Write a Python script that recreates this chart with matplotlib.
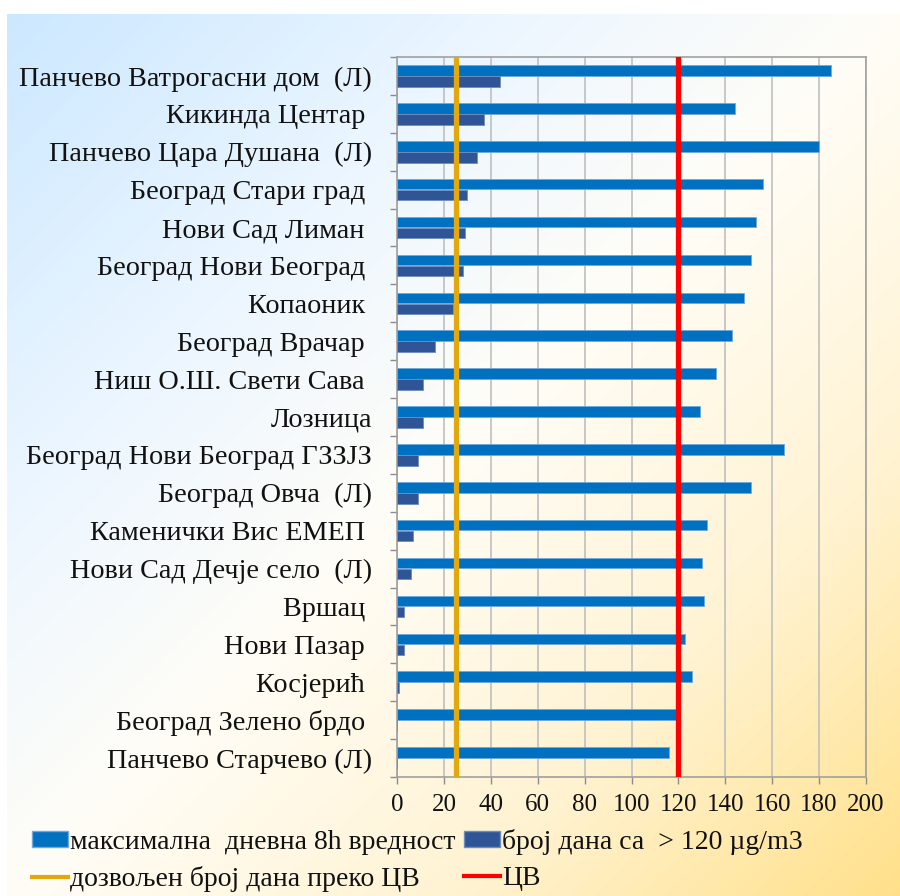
import numpy as np
import matplotlib
matplotlib.use("Agg")
import matplotlib.pyplot as plt
from matplotlib.patches import Patch
from matplotlib.lines import Line2D
from matplotlib.colors import LinearSegmentedColormap

plt.rcParams['font.family'] = ['Liberation Serif', 'DejaVu Serif']

stations = [
    "Панчево Ватрогасни дом  (Л)",
    "Кикинда Центар ",
    "Панчево Цара Душана  (Л)",
    "Београд Стари град ",
    "Нови Сад Лиман ",
    "Београд Нови Београд ",
    "Копаоник ",
    "Београд Врачар ",
    "Ниш О.Ш. Свети Сава ",
    "Лозница",
    "Београд Нови Београд ГЗЗЈЗ",
    "Београд Овча  (Л)",
    "Каменички Вис ЕМЕП ",
    "Нови Сад Дечје село  (Л)",
    "Вршац ",
    "Нови Пазар ",
    "Косјерић ",
    "Београд Зелено брдо ",
    "Панчево Старчево (Л)",
]
max_8h = [185, 144, 180, 156, 153, 151, 148, 143, 136, 129, 165, 151, 132, 130, 131, 123, 126, 119, 116]
days_over = [44, 37, 34, 30, 29, 28, 24, 16, 11, 11, 9, 9, 7, 6, 3, 3, 1, 0, 0]
allowed_days = 25
limit_value = 120
x_ticks = list(range(0, 201, 20))

legend_labels = ["максимална  дневна 8h вредност", "број дана са  > 120 µg/m3",
                 "дозвољен број дана преко ЦВ", "ЦВ"]

c_max = "#0070C0"
c_days = "#2F5597"
c_allowed = "#E2A80E"
c_limit = "#FF0000"

W, H = 900, 896
fig = plt.figure(figsize=(W / 100, H / 100), dpi=100)
fig.patch.set_facecolor("white")

# gradient background
bg = fig.add_axes([7 / W, 0, 1 - 7 / W, 1 - 14 / H], zorder=-10)
gx = np.linspace(0, 1, 400)
gy = np.linspace(0, 1, 400)
GX, GY = np.meshgrid(gx, gy)
T = (GX + GY) / 2
cmap = LinearSegmentedColormap.from_list(
    "bg", [(0, "#CCE8FF"), (0.3, "#EEF7FF"), (0.5, "#FFFDF7"), (0.75, "#FFF3D2"), (1, "#FFE08A")])
bg.imshow(T, cmap=cmap, aspect="auto", origin="upper", extent=[0, 1, 0, 1], vmin=0, vmax=1)
bg.axis("off")

ax = fig.add_axes([397 / W, 1 - 777 / H, (866 - 397) / W, (777 - 57) / H])
ax.set_facecolor("none")

n = len(stations)
y = np.arange(n)
h = 0.28
ax.barh(y - 0.145, max_8h, height=h, color=c_max, edgecolor="#6FA8DC", linewidth=0.6, zorder=3)
ax.barh(y + 0.145, days_over, height=h, color=c_days, edgecolor="#6E8CC0", linewidth=0.6, zorder=3)
ax.axvline(allowed_days, color=c_allowed, lw=3.8, zorder=4)
ax.axvline(limit_value, color=c_limit, lw=3.8, zorder=4)

ax.set_xlim(0, 200)
ax.set_ylim(n - 0.5, -0.5)
ax.set_xticks(x_ticks)
ax.set_xticklabels([str(v) for v in x_ticks])
ax.xaxis.grid(True, color="#BFBFBF", lw=1.2, zorder=0)
ax.set_axisbelow(True)

ax.set_yticks(np.arange(-0.5, n, 1.0))
ax.set_yticklabels([])
ax.set_yticks(y, minor=True)
ax.set_yticklabels(stations, minor=True)
ax.tick_params(axis="y", which="major", length=5, color="#8C8C8C", width=1)
ax.tick_params(axis="y", which="minor", length=0, pad=18, labelsize=20.3, labelcolor="#111111")
ax.tick_params(axis="x", length=5, color="#8C8C8C", width=1, pad=7, labelsize=18, labelcolor="#111111")

for s in ax.spines.values():
    s.set_color("#A0A0A0")
    s.set_linewidth(1.2)

h_max = Patch(facecolor=c_max, edgecolor="#6FA8DC")
h_days = Patch(facecolor=c_days, edgecolor="#6E8CC0")
h_allowed = Line2D([0], [0], color=c_allowed, lw=3)
h_limit = Line2D([0], [0], color=c_limit, lw=3)
# column-wise fill: col 1 = max, allowed ; col 2 = days, limit
fig.legend([h_max, h_allowed, h_days, h_limit],
           [legend_labels[0], legend_labels[2], legend_labels[1], legend_labels[3]],
           ncol=2, loc="upper left",
           bbox_to_anchor=(32 / W, 1 - 829 / H), frameon=False, fontsize=20,
           handlelength=1.28, handleheight=0.5, handletextpad=0.1,
           columnspacing=0.3, labelspacing=0.38, borderpad=0, borderaxespad=0,
           labelcolor="#111111")

fig.savefig("out.png", dpi=100)
